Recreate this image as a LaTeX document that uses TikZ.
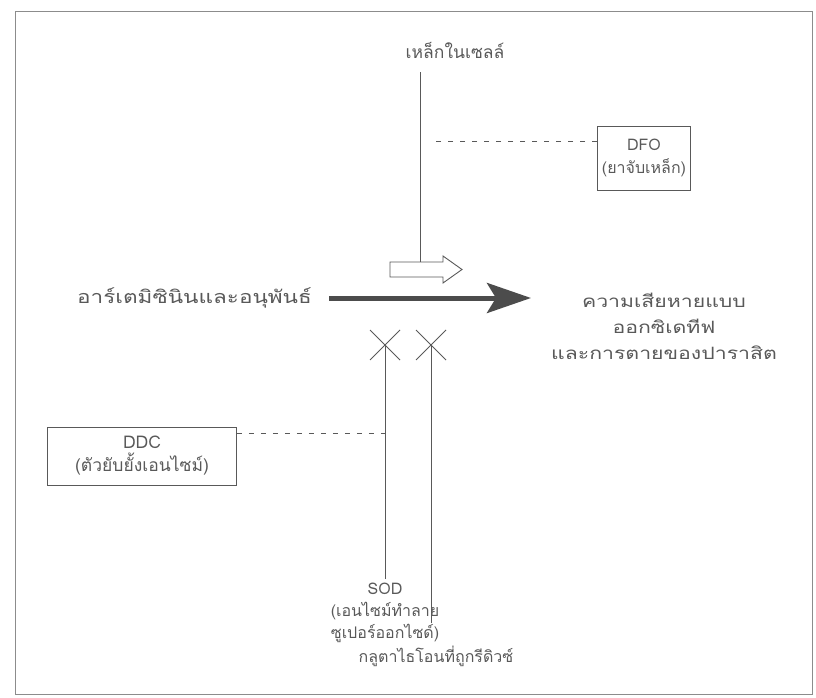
\documentclass[tikz,border=0pt]{standalone}
\usepackage{fontspec}
\newfontfamily\thai[Script=Thai]{Loma}
\newfontfamily\thaiwide[Script=Thai,FakeStretch=1.25]{Loma}
\usetikzlibrary{arrows.meta}
\definecolor{ink}{gray}{0.35}
\definecolor{arrowfill}{gray}{0.3}
\begin{document}
\begin{tikzpicture}[x=1pt,y=-1pt,
  every node/.style={text=ink, font=\thai\fontsize{16}{23}\selectfont, inner sep=0pt},
  lbl/.style={align=center},
  widelbl/.style={align=center, font=\thaiwide\fontsize{18}{26}\selectfont},
  boxed/.style={draw=ink, line width=0.8pt, align=center},
  conn/.style={draw=ink, line width=0.9pt},
  dashconn/.style={draw=ink, line width=0.9pt, dash pattern=on 5pt off 7pt},
  framestyle/.style={draw=black!45, line width=0.8pt}]
\useasboundingbox (0,0) rectangle (816,698);
\draw[framestyle] (15,11) rectangle (812,694);

% nodes
\node[lbl, font=\thai\fontsize{17.5}{23}\selectfont] (iron) at (455,50) {เหล็กในเซลล์};
\node[boxed, minimum width=93pt, minimum height=64pt] (dfo) at (644,158) {DFO\\(ยาจับเหล็ก)};
\node[widelbl, anchor=east] (art) at (312,298) {อาร์เตมิซินินและอนุพันธ์};
\node[lbl, font=\thaiwide\fontsize{17}{26}\selectfont] (dmg) at (664,326) {ความเสียหายแบบ\\ออกซิเดทีฟ\\และการตายของปาราสิต};
\node[boxed, minimum width=189pt, minimum height=58pt, font=\thai\fontsize{17.5}{23}\selectfont] (ddc) at (142,456) {DDC\\(ตัวยับยั้งเอนไซม์)};
\node[lbl, anchor=north, font=\thai\fontsize{16}{22}\selectfont] (sod) at (385,583) {SOD\\(เอนไซม์ทำลาย\\ซูเปอร์ออกไซด์)};
\node[lbl] (gsh) at (436,656) {กลูตาไธโอนที่ถูกรีดิวซ์};

% coordinates
\coordinate (j) at (420,262);
\coordinate (c1) at (385,345);
\coordinate (c2) at (431,345);
\coordinate (d1) at ([yshift=17pt]dfo.west);
\coordinate (d2) at ([yshift=23pt]ddc.east);
\coordinate (a1) at (329,298);
\coordinate (a2) at (531,298);

% iron inhibition line and open arrow
\draw[conn] (iron.south -| j) ++(0,14) -- (j);
\draw[conn, fill=white] (390,262) -- (443,262) -- (443,256) -- (462,269.5) -- (443,283) -- (443,277) -- (390,277) -- cycle;
\draw[dashconn] (d1) -- ([xshift=10pt]d1 -| j);

% main arrow
\draw[draw=arrowfill, line width=5pt, -{Stealth[length=44pt,width=30pt,inset=9pt,fill=arrowfill]}] (a1) -- (a2);

% crosses
\foreach \c in {c1,c2}{
  \draw[conn] ([shift={(-15,-15)}]\c) -- ([shift={(15,15)}]\c);
  \draw[conn] ([shift={(-15,15)}]\c) -- ([shift={(15,-15)}]\c);
}
\draw[conn] ([yshift=4pt]sod.north -| c1) -- (c1);
\draw[conn] ([yshift=22pt]gsh.north -| c2) -- (c2);
\draw[dashconn] (d2) -- (d2 -| c1);
\end{tikzpicture}
\end{document}
